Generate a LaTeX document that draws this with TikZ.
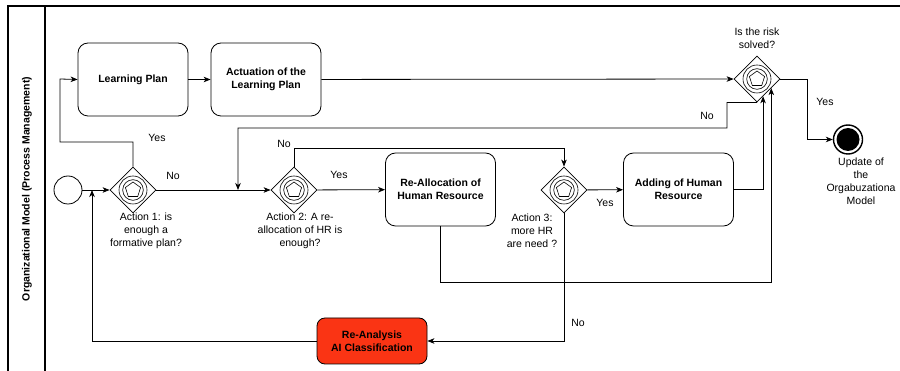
\documentclass[tikz,border=0pt]{standalone}
\usepackage{fontspec}
\setmainfont{Liberation Sans}
\usetikzlibrary{shapes.geometric,arrows.meta,calc}
\definecolor{redfill}{RGB}{250,52,20}
\begin{document}
\begin{tikzpicture}[x=1pt,y=-1pt,
 txt/.style={font=\fontsize{10.5}{13}\selectfont, align=center, inner sep=0pt},
 task/.style={draw, rounded corners=10pt, minimum width=110pt, minimum height=73pt, align=center,
   font=\bfseries\fontsize{10.5}{13}\selectfont, inner sep=0pt, line width=0.8pt},
 gw/.style={draw, diamond, minimum width=46pt, minimum height=46pt, inner sep=0pt, line width=0.8pt,
   path picture={
     \begin{scope}[shift={(path picture bounding box.center)}]
       \draw[line width=0.6pt] (0,0) circle[radius=14pt];
       \draw[line width=0.6pt] (0,0) circle[radius=10.3pt];
       \draw[line width=0.6pt] (90:8pt) -- (162:8pt) -- (234:8pt) -- (306:8pt) -- (18:8pt) -- cycle;
     \end{scope}}},
 flow/.style={-{Stealth[length=7pt,width=5.5pt,inset=2pt]}, line width=0.8pt},
 lanebar/.style={line width=1.5pt}
]
\useasboundingbox (0,0) rectangle (900,371);

% lane
\draw[lanebar] (8,371) -- (8,6) -- (900,6);
\draw[lanebar] (45,6) -- (45,371);
\node[rotate=90, font=\bfseries\fontsize{10.5}{13}\selectfont, inner sep=0pt] (lane) at (27,189) {Organizational Model (Process Management)};

% nodes
\node[circle, draw, minimum size=28pt, inner sep=0pt, line width=0.8pt] (start) at (68,190) {};
\node[gw] (g1) at (133,190) {};
\node[gw] (g2) at (294,190) {};
\node[gw] (g3) at (564,190) {};
\node[gw] (gr) at (757,79) {};
\node[task] (lp) at (133,79.5) {Learning Plan};
\node[task] (alp) at (266,79.5) {Actuation of the\\Learning Plan};
\node[task] (rahr) at (440.5,189.5) {Re-Allocation of\\Human Resource};
\node[task] (ahr) at (678.5,189.5) {Adding of Human\\Resource};
\node[task, fill=redfill, minimum height=46pt, rounded corners=8pt] (ra) at (372,341) {Re-Analysis\\AI Classification};
\node[circle, draw, line width=1.4pt, minimum size=29pt, inner sep=0pt] (end) at (848,139.5) {};
\fill (end.center) circle[radius=11.5pt];

% coordinates
\coordinate (m1) at (238,190);
\coordinate (m2) at (92,190);
\coordinate (ga) at ($(gr.south)!0.26!(gr.east)$);
\coordinate (gb) at ($(gr.south)!0.61!(gr.east)$);

% connectors
\draw[flow] (start) -- (g1);
\draw[flow] (lp) -- (alp);
\draw[flow] (alp) -- (gr);
\draw[flow] (g1.north) -- (133,142) -| (60,79) -- (lp.west);
\draw[flow] (g1) -- (g2);
\draw[flow] (g2) -- (rahr);
\draw[flow] (g3) -- (ahr);
\draw[flow] (g2.north) -- ++(0,-18) -| (g3.north);
\draw[flow] (gr.south) -- (727,102.5) |- (238,128) -- (m1);
\draw[flow] (ahr.east) -| (ga);
\draw[flow] (rahr.south) -- (440.5,282) -| (gb);
\draw[flow] (g3.south) |- (ra.east);
\draw[flow] (ra.west) -| (m2);
\draw[flow] (gr.east) -- (807,79) |- (end.west);

% labels
\node[txt] (l1) at (157,138) {Yes};
\node[txt] (l2) at (173,176) {No};
\node[txt] (l3) at (284,144) {No};
\node[txt] (l4) at (339,175) {Yes};
\node[txt] (l5) at (605,203) {Yes};
\node[txt] (l6) at (578,323) {No};
\node[txt] (l7) at (707,116) {No};
\node[txt] (l8) at (825,102) {Yes};
\node[txt] (q0) at (757,38.5) {Is the risk\\solved?};
\node[txt] (q1) at (146,231) {Action 1: is\\enough a\\formative plan?};
\node[txt] (q2) at (300,231) {Action 2: A re-\\allocation of HR is\\enough?};
\node[txt] (q3) at (532,231) {Action 3:\\more HR\\are need ?};
\node[txt] (q4) at (861,181) {Update of\\the\\Orgabuzationa\\Model};
\end{tikzpicture}
\end{document}
